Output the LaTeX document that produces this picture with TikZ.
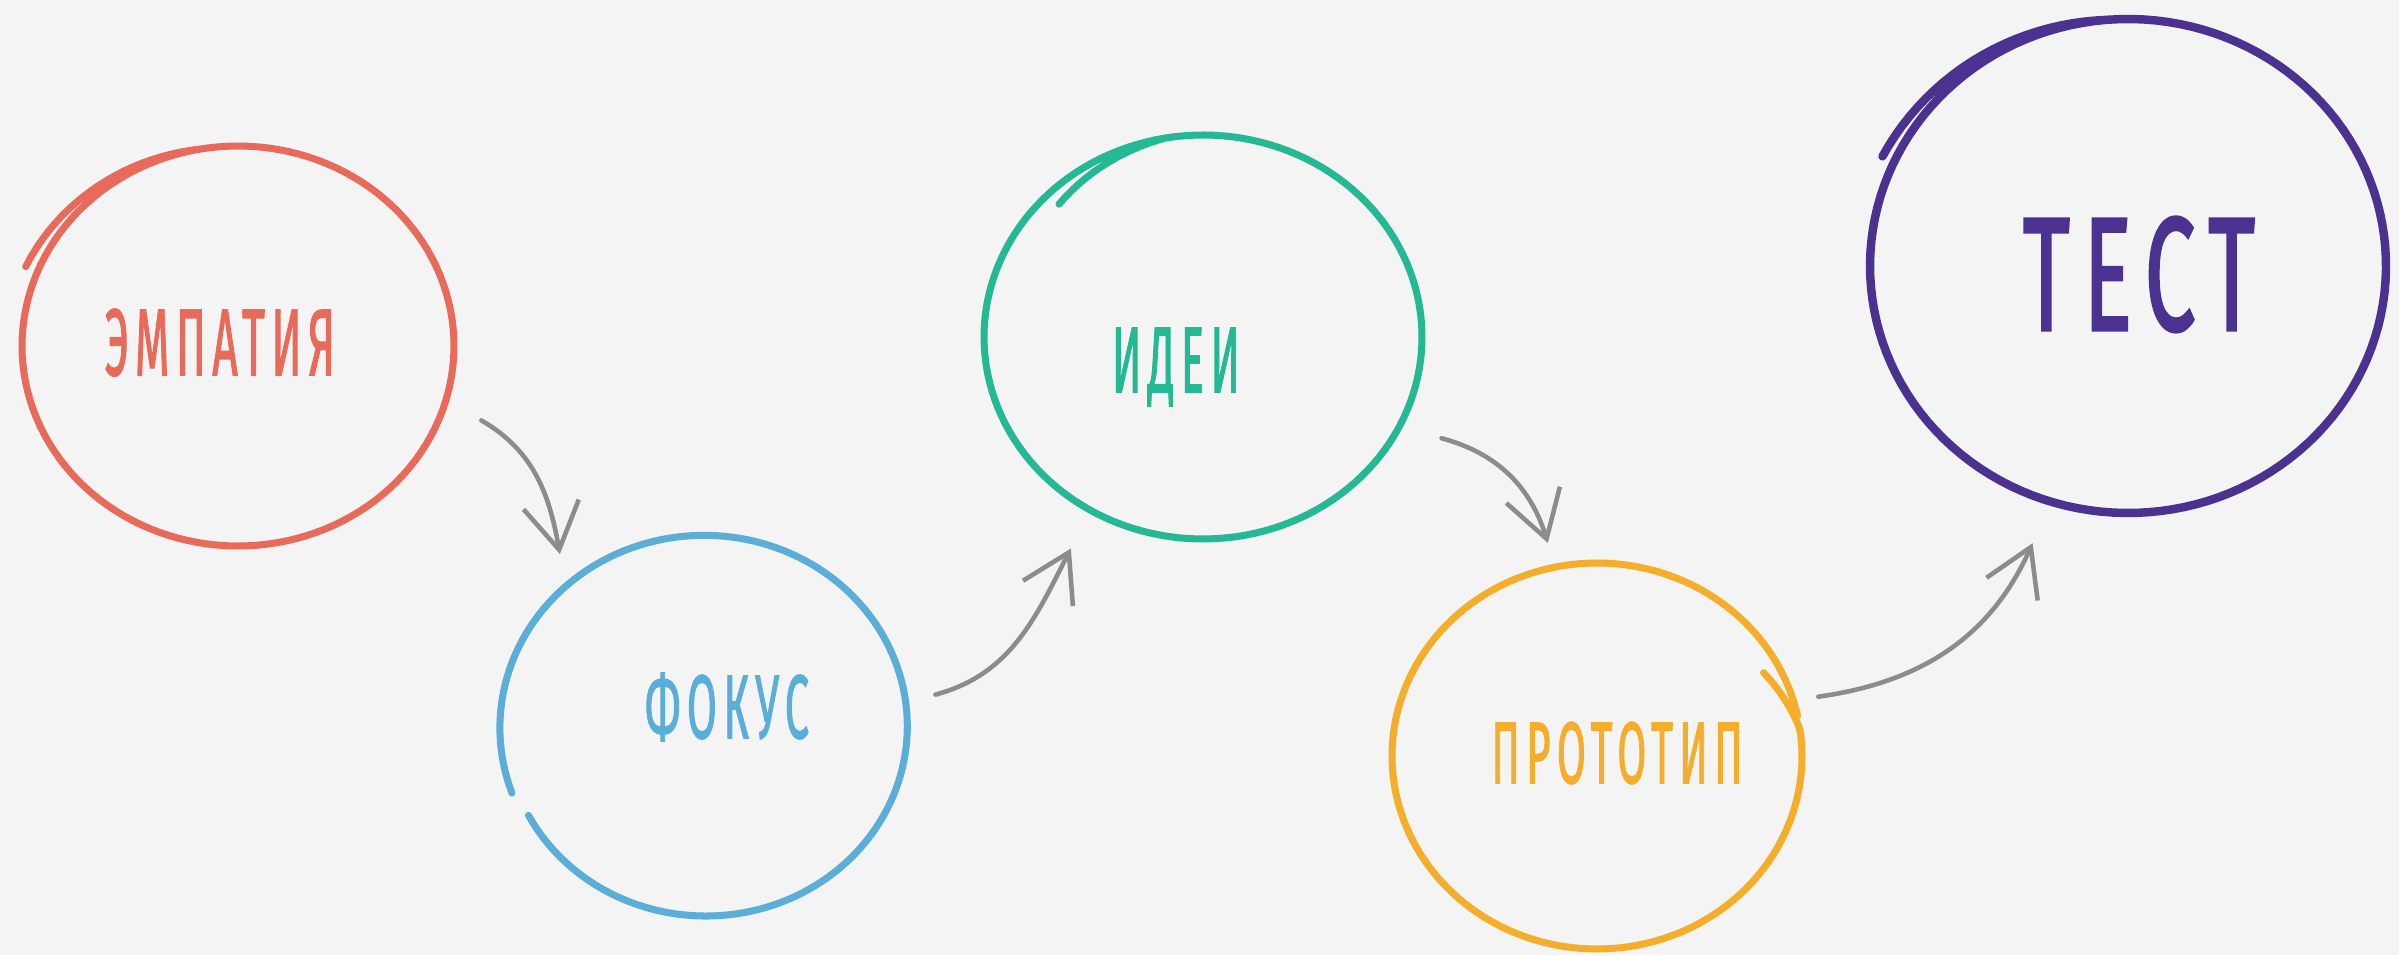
\documentclass[tikz,border=0pt]{standalone}
\usepackage{fontspec}
\setmainfont{Fira Sans}
\newfontfamily\wordfont[FakeBold=2,LetterSpace=15]{Fira Sans}
\usepackage{graphicx}
\usetikzlibrary{arrows.meta,shapes.geometric}
\definecolor{paper}{HTML}{F4F4F4}
\definecolor{empcol}{HTML}{E86A5A}
\definecolor{fokcol}{HTML}{5BAED8}
\definecolor{ideicol}{HTML}{25B894}
\definecolor{protocol}{HTML}{F5AE2C}
\definecolor{testcol}{HTML}{4C3290}
\definecolor{arrowgray}{HTML}{8C8C8C}
\newcommand{\squeezeword}[3]{\resizebox{#1}{#2}{\wordfont #3}}
\tikzset{
    ring/.style={ellipse, draw=none, inner sep=0mm},
    word/.style={anchor=base, inner sep=0mm},
    hand/.style={line width=2pt, line cap=round, line join=round, samples=160},
    flow/.style={draw=arrowgray, line width=1.3pt, line cap=round, -{Straight Barb[length=4.6mm,width=5.6mm]}},
    declare function={ringf(\t,\a,\f,\w)=\f+(1-\f)*min(1,(\a-\t)/\w);}
}

\begin{document}
\begin{tikzpicture}
        \useasboundingbox (0,0) rectangle (23.99,9.55);
        \fill[paper] (0,0) rectangle (23.99,9.55);
        \node (emp) [ring, minimum width=4.32cm, minimum height=4.00cm, outer sep=0.40cm] at (2.38cm, 6.09cm) {};
        \node (fok) [ring, minimum width=4.06cm, minimum height=3.82cm, outer sep=0.30cm] at (7.05cm, 2.28cm) {};
        \node (idei) [ring, minimum width=4.38cm, minimum height=4.04cm, outer sep=0.43cm] at (12.03cm, 6.18cm) {};
        \node (proto) [ring, minimum width=4.10cm, minimum height=3.86cm, outer sep=0.25cm] at (15.97cm, 1.99cm) {};
        \node (test) [ring, minimum width=5.16cm, minimum height=4.94cm, outer sep=0.45cm] at (21.28cm, 6.89cm) {};
        \node (emp-w) [word, empcol] at (2.20cm, 5.80cm) {\squeezeword{2.30cm}{0.66cm}{ЭМПАТИЯ}};
        \node (fok-w) [word, fokcol] at (7.27cm, 2.17cm) {\squeezeword{1.64cm}{0.65cm}{ФОКУС}};
        \node (idei-w) [word, ideicol] at (11.76cm, 5.63cm) {\squeezeword{1.28cm}{0.64cm}{ИДЕИ}};
        \node (proto-w) [word, protocol] at (16.17cm, 1.72cm) {\squeezeword{2.51cm}{0.61cm}{ПРОТОТИП}};
        \node (test-w) [word, testcol] at (21.39cm, 6.25cm) {\squeezeword{2.32cm}{1.13cm}{ТЕСТ}};
        % hand drawn rings
        \draw[hand, empcol, shift={(emp.center)}] plot[domain=158:-262] ({ringf(\x,158,1.06,58)*2.16*cos(\x)}, {ringf(\x,158,1.06,58)*2.00*sin(\x)});
        \draw[hand, fokcol, shift={(fok.center)}] plot[domain=560:208] ({(0.985+0.027*(\x-208)/352)*2.03*cos(\x)}, {(0.985+0.027*(\x-208)/352)*1.91*sin(\x)});
        \draw[hand, ideicol, shift={(idei.center)}] plot[domain=135:-265] ({ringf(\x,135,0.93,35)*2.19*cos(\x)}, {ringf(\x,135,0.93,35)*2.02*sin(\x)});
        \draw[hand, protocol, shift={(proto.center)}] plot[domain=28:-348] ({ringf(\x,28,0.92,20)*2.05*cos(\x)}, {ringf(\x,28,0.92,20)*1.93*sin(\x)});
        \draw[hand, testcol, line width=2.4pt, shift={(test.center)}] plot[domain=155:-265] ({ringf(\x,155,1.05,60)*2.58*cos(\x)}, {ringf(\x,155,1.05,60)*2.47*sin(\x)});
        % arrows
        \draw[flow] (emp.-17) to[out=-30, in=100] (fok.130);
        \draw[flow] (fok.8) to[out=15, in=243] (idei.238);
        \draw[flow] (idei.-23) to[out=-15, in=107] (proto.103);
        \draw[flow] (proto.15) to[out=8, in=246] (test.251);
\end{tikzpicture}
\end{document}
